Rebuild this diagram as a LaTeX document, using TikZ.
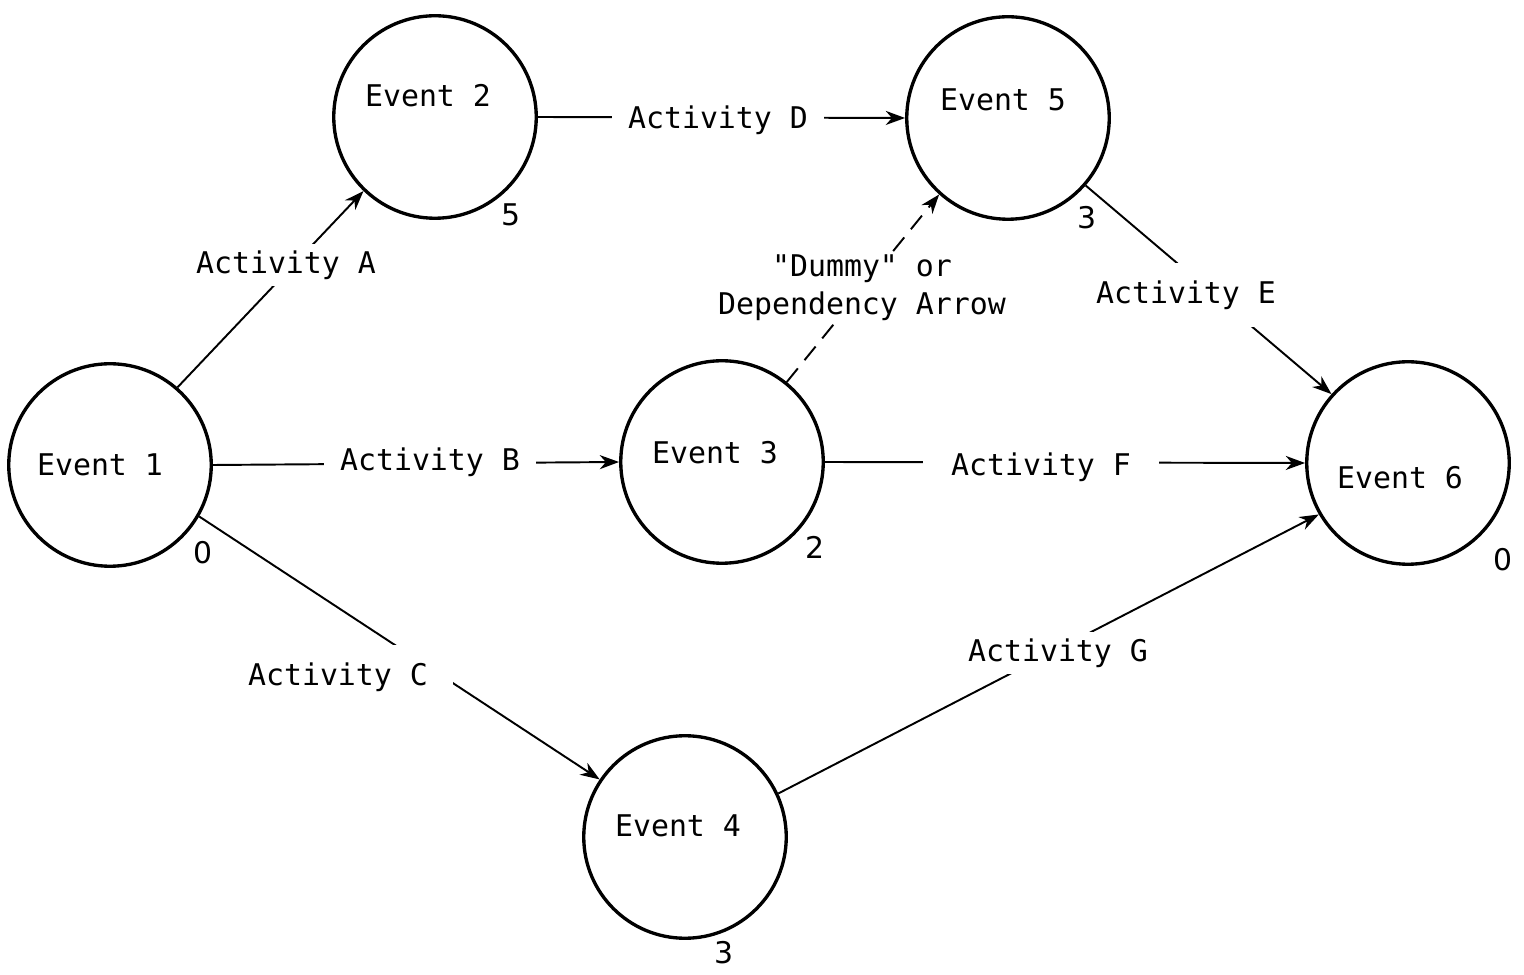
\documentclass[tikz,border=0pt]{standalone}
\usepackage{fontspec}
\setmonofont{DejaVu Sans Mono}
\setsansfont{DejaVu Sans}
\usetikzlibrary{arrows.meta}
\usetikzlibrary{positioning}
\tikzset{event/.style = {draw, circle, line width = 1.9pt, inner sep = 0, minimum size = 4.05cm}}
\tikzset{txt/.style = {font = \ttfamily\fontsize{17}{21.5}\selectfont, inner sep = 0}}
\tikzset{num/.style = {font = \sffamily\fontsize{17}{21.5}\selectfont, inner sep = 0}}
\tikzset{lab/.style = {txt, fill = white, inner xsep = 9pt, inner ysep = 4pt}}
\tikzset{act/.style = {line width = 1.1pt, -{Stealth[length = 11pt, width = 8pt, inset = 3.5pt]}}}

\begin{document}
\begin{tikzpicture}
    \useasboundingbox (0, 0) rectangle (30.48, 19.48);

    % events
    \node [event] (e1) at (2.2, 10.18) {};
    \node [event] (e2) at (8.7, 17.14) {};
    \node [event] (e3) at (14.44, 10.24) {};
    \node [event] (e4) at (13.7, 2.74) {};
    \node [event] (e5) at (20.16, 17.12) {};
    \node [event] (e6) at (28.16, 10.22) {};

    \node [txt] (e1t) at ([shift = {(-0.2, 0.0)}] e1) {Event 1};
    \node [txt] (e2t) at ([shift = {(-0.14, 0.42)}] e2) {Event 2};
    \node [txt] (e3t) at ([shift = {(-0.14, 0.18)}] e3) {Event 3};
    \node [txt] (e4t) at ([shift = {(-0.14, 0.22)}] e4) {Event 4};
    \node [txt] (e5t) at ([shift = {(-0.10, 0.36)}] e5) {Event 5};
    \node [txt] (e6t) at ([shift = {(-0.16, -0.30)}] e6) {Event 6};

    % slack numbers
    \node [num] (n1) at (4.06, 8.42) {0};
    \node [num] (n2) at (10.22, 15.18) {5};
    \node [num] (n3) at (16.30, 8.54) {2};
    \node [num] (n4) at (14.48, 0.42) {3};
    \node [num] (n5) at (21.74, 15.12) {3};
    \node [num] (n6) at (30.06, 8.28) {0};

    % activities
    \draw [act] (e1.49) -- (e2.226);
    \draw [act] (e1.east) -- (e3.west);
    \draw [act] (e1.-30) -- (e4.146);
    \draw [act] (e2.east) -- (e5.west);
    \draw [act] (e5.-41) -- (e6.138);
    \draw [act] (e3.east) -- (e6.west);
    \draw [act] (e4.25) -- (e6.210);
    \draw [act, dash pattern = on 10pt off 6pt] (e3.51) -- (e5.228);

    \node [lab] (la) at (5.72, 14.18) {Activity A};
    \node [lab] (lb) at (8.6, 10.24) {Activity B};
    \node [lab, inner xsep = 14pt, inner ysep = 10pt] (lc) at (6.76, 5.94) {Activity C};
    \node [lab] (ld) at (14.36, 17.08) {Activity D};
    \node [lab, inner xsep = 14pt, inner ysep = 10pt] (le) at (23.72, 13.58) {Activity E};
    \node [lab, inner xsep = 16pt] (lf) at (20.82, 10.14) {Activity F};
    \node [lab] (lg) at (21.16, 6.42) {Activity G};
    \node [lab, align = center, inner ysep = 2pt] (ldum) at (17.24, 13.72) {"Dummy" or\\Dependency Arrow};
  \end{tikzpicture}
\end{document}
